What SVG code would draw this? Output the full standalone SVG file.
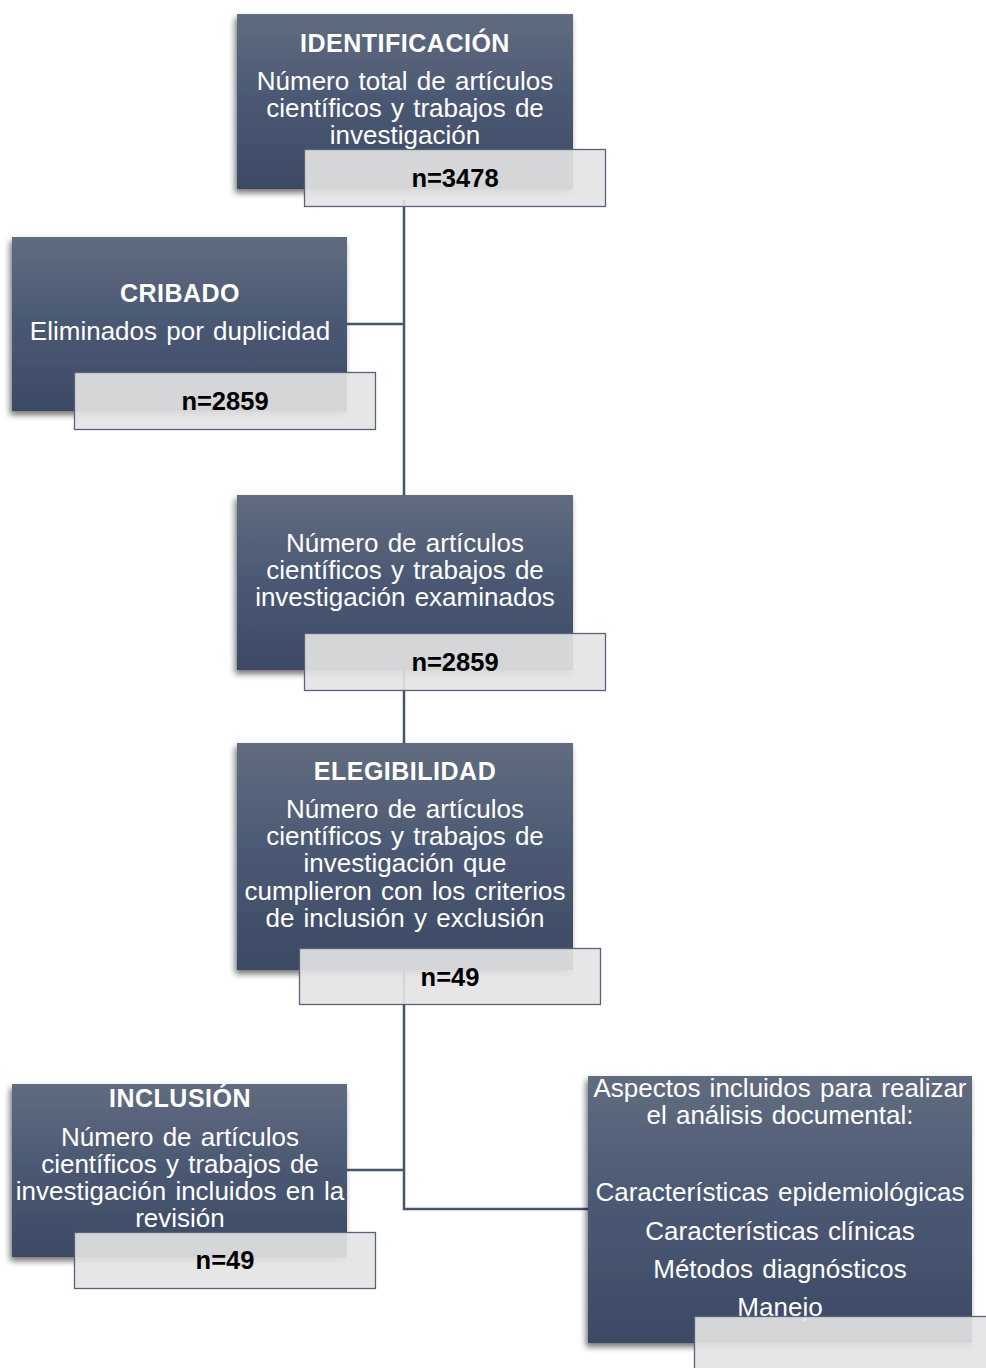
<svg xmlns="http://www.w3.org/2000/svg" width="986" height="1368" viewBox="0 0 986 1368">
<defs>
<linearGradient id="g" x1="0" y1="0" x2="0" y2="1">
<stop offset="0" stop-color="#606c7f"/>
<stop offset="0.5" stop-color="#4a5873"/>
<stop offset="1" stop-color="#3c4a64"/>
</linearGradient>
<filter id="sh" x="-10%" y="-10%" width="125%" height="125%">
<feGaussianBlur in="SourceAlpha" stdDeviation="3"/>
<feOffset dx="-2" dy="4" result="b"/>
<feComponentTransfer><feFuncA type="linear" slope="0.55"/></feComponentTransfer>
<feMerge><feMergeNode/><feMergeNode in="SourceGraphic"/></feMerge>
</filter>
</defs>
<style>
.dark{fill:url(#g);filter:url(#sh)}
.n{fill:#e4e4e4;fill-opacity:0.91;stroke:#56647b;stroke-width:1.3}
.t{font-family:"Liberation Sans",Arial,sans-serif;font-size:26px;fill:#ffffff;text-anchor:middle;word-spacing:2px}
.h{font-family:"Liberation Sans",Arial,sans-serif;font-size:25px;font-weight:bold;fill:#ffffff;text-anchor:middle;letter-spacing:0.5px}
.nt{font-family:"Liberation Sans",Arial,sans-serif;font-size:25.5px;font-weight:bold;fill:#000000;text-anchor:middle}
.c{fill:none;stroke:#46546c;stroke-width:2.5}
</style>
<rect width="986" height="1368" fill="#ffffff"/>
<g id="connectors">
<path class="c" d="M404,200 V495"/>
<path class="c" d="M347,324 H404"/>
<path class="c" d="M404,670 V743"/>
<path class="c" d="M404,960 V1209 H588"/>
<path class="c" d="M347,1170 H404"/>
</g>
<g id="identificacion">
<rect class="dark" x="237" y="14" width="336" height="175"/>
<text class="h" x="405" y="52">IDENTIFICACIÓN</text>
<text class="t" x="405" y="90">Número total de artículos</text>
<text class="t" x="405" y="117">científicos y trabajos de</text>
<text class="t" x="405" y="144">investigación</text>
<rect class="n" x="304.5" y="149.5" width="301" height="57"/>
<text class="nt" x="455" y="187">n=3478</text>
</g>
<g id="cribado">
<rect class="dark" x="12" y="237" width="335" height="174"/>
<text class="h" x="180" y="302">CRIBADO</text>
<text class="t" x="180" y="340">Eliminados por duplicidad</text>
<rect class="n" x="74.5" y="372.5" width="301" height="57"/>
<text class="nt" x="225" y="410">n=2859</text>
</g>
<g id="examinados">
<rect class="dark" x="237" y="495" width="336" height="175"/>
<text class="t" x="405" y="552">Número de artículos</text>
<text class="t" x="405" y="579">científicos y trabajos de</text>
<text class="t" x="405" y="606">investigación examinados</text>
<rect class="n" x="304.5" y="633.5" width="301" height="57"/>
<text class="nt" x="455" y="671">n=2859</text>
</g>
<g id="elegibilidad">
<rect class="dark" x="237" y="743" width="336" height="227"/>
<text class="h" x="405" y="780">ELEGIBILIDAD</text>
<text class="t" x="405" y="818">Número de artículos</text>
<text class="t" x="405" y="845">científicos y trabajos de</text>
<text class="t" x="405" y="872">investigación que</text>
<text class="t" x="405" y="900">cumplieron con los criterios</text>
<text class="t" x="405" y="927">de inclusión y exclusión</text>
<rect class="n" x="299.5" y="948.5" width="301" height="56"/>
<text class="nt" x="450" y="986">n=49</text>
</g>
<g id="inclusion">
<rect class="dark" x="12" y="1084" width="335" height="173"/>
<text class="h" x="180" y="1107">INCLUSIÓN</text>
<text class="t" x="180" y="1146">Número de artículos</text>
<text class="t" x="180" y="1173">científicos y trabajos de</text>
<text class="t" x="180" y="1200">investigación incluidos en la</text>
<text class="t" x="180" y="1227">revisión</text>
<rect class="n" x="74.5" y="1232.5" width="301" height="56"/>
<text class="nt" x="225" y="1269">n=49</text>
</g>
<g id="aspectos">
<rect class="dark" x="588" y="1076" width="384" height="267"/>
<text class="t" x="780" y="1097">Aspectos incluidos para realizar</text>
<text class="t" x="780" y="1124">el análisis documental:</text>
<text class="t" x="780" y="1201">Características epidemiológicas</text>
<text class="t" x="780" y="1240">Características clínicas</text>
<text class="t" x="780" y="1278">Métodos diagnósticos</text>
<text class="t" x="780" y="1316">Manejo</text>
<rect class="n" x="694.5" y="1316.5" width="301" height="57"/>
</g>
</svg>
